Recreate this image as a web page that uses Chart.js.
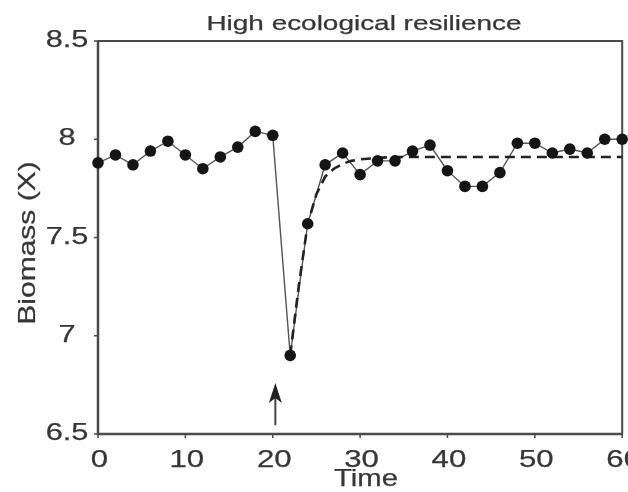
<!DOCTYPE html>
<html>
<head>
<meta charset="utf-8">
<script src="https://cdn.jsdelivr.net/npm/chart.js@4.4.1/dist/chart.umd.min.js"></script>
<style>
  html, body { margin: 0; padding: 0; background: #ffffff; }
  #wrap { width: 628px; height: 492px; }
</style>
</head>
<body>
<div id="wrap"><canvas id="c" width="628" height="492"></canvas></div>
<script>
// Observed biomass, sampled every 2 time units
const timePoints = [0, 2, 4, 6, 8, 10, 12, 14, 16, 18, 20, 22, 24, 26, 28, 30,
                    32, 34, 36, 38, 40, 42, 44, 46, 48, 50, 52, 54, 56, 58, 60];
const biomass = [7.88, 7.92, 7.87, 7.94, 7.99, 7.92, 7.85, 7.91, 7.96, 8.04, 8.02, 6.90, 7.57, 7.87, 7.93, 7.82,
                 7.89, 7.89, 7.94, 7.97, 7.84, 7.76, 7.76, 7.83, 7.98, 7.98, 7.93, 7.95, 7.93, 8.00, 8.00];

// Fitted recovery trajectory after the disturbance
const fitTime = [22, 23, 24, 25, 26, 27, 28, 29, 30, 32, 34, 60];
const fitBiomass = [6.90, 7.26, 7.57, 7.72, 7.81, 7.85, 7.875, 7.89, 7.898, 7.905, 7.91, 7.91];

// Axis ticks
const xTicks = [0, 10, 20, 30, 40, 50, 60];
const yTicks = [6.5, 7, 7.5, 8, 8.5];
const yTickLabels = ['6.5', '7', '7.5', '8', '8.5'];

// Disturbance marker (time, arrow base, arrow tip)
const disturbanceTime = 20.3;
const arrowBase = 6.545;
const arrowTip = 6.76;

const titleText = 'High ecological resilience';
const xTitle = 'Time';
const yTitle = 'Biomass (X)';

const INK = '#363636';
const FONT = '"Liberation Sans", Arial, Helvetica, sans-serif';

// Text drawn with a horizontal stretch along its baseline (wide lettering)
function wideText(ctx, str, x, y, size, sx, align, rot) {
  ctx.save();
  ctx.translate(x, y);
  if (rot) ctx.rotate(rot);
  ctx.scale(sx, 1);
  ctx.font = size + 'px ' + FONT;
  ctx.fillStyle = INK;
  ctx.strokeStyle = INK;
  ctx.lineWidth = 0.25;
  ctx.textAlign = align;
  ctx.textBaseline = 'alphabetic';
  ctx.fillText(str, 0, 0);
  ctx.strokeText(str, 0, 0);
  ctx.restore();
}

const framePlugin = {
  id: 'frameAndArrow',
  beforeDatasetsDraw(chart) {
    const { ctx, chartArea: a, scales: { x, y } } = chart;
    ctx.save();
    ctx.strokeStyle = '#4a4a4a';
    // top and right edges
    ctx.lineWidth = 2;
    ctx.beginPath();
    ctx.moveTo(a.left, a.top); ctx.lineTo(a.right, a.top); ctx.lineTo(a.right, a.bottom);
    ctx.stroke();
    // left and bottom axes
    ctx.lineWidth = 2.5;
    ctx.beginPath();
    ctx.moveTo(a.left, a.top); ctx.lineTo(a.left, a.bottom); ctx.lineTo(a.right, a.bottom);
    ctx.stroke();
    // outward tick marks
    ctx.lineWidth = 1.5;
    ctx.beginPath();
    yTicks.forEach(v => {
      const py = y.getPixelForValue(v);
      ctx.moveTo(a.left - 4, py); ctx.lineTo(a.left, py);
    });
    xTicks.forEach(v => {
      const px = x.getPixelForValue(v);
      ctx.moveTo(px, a.bottom); ctx.lineTo(px, a.bottom + 4);
    });
    ctx.stroke();
    // disturbance arrow
    const ax = x.getPixelForValue(disturbanceTime);
    const yb = y.getPixelForValue(arrowBase);
    const yt = y.getPixelForValue(arrowTip);
    ctx.strokeStyle = '#444444';
    ctx.lineWidth = 2;
    ctx.beginPath();
    ctx.moveTo(ax, yb); ctx.lineTo(ax, yt + 14);
    ctx.stroke();
    ctx.fillStyle = '#222222';
    ctx.beginPath();
    ctx.moveTo(ax, yt);
    ctx.lineTo(ax - 6.5, yt + 20);
    ctx.lineTo(ax, yt + 15);
    ctx.lineTo(ax + 6.5, yt + 20);
    ctx.closePath();
    ctx.fill();
    ctx.restore();
  },
  afterDraw(chart) {
    const { ctx, scales: { x, y } } = chart;
    wideText(ctx, titleText, 364, 30, 21, 1.33, 'center');
    yTicks.forEach((v, i) => {
      wideText(ctx, yTickLabels[i], 67, y.getPixelForValue(v) + 6, 24, 1.28, 'center');
    });
    xTicks.forEach(v => {
      wideText(ctx, String(v), x.getPixelForValue(v) + 1.5, 467, 24, 1.3, 'center');
    });
    wideText(ctx, xTitle, 366, 486, 24, 1.22, 'center');
    wideText(ctx, yTitle, 35, 243, 24, 1.25, 'center', -Math.PI / 2);
  }
};

const observed = timePoints.map((t, i) => ({ x: t, y: biomass[i] }));
const fitted = fitTime.map((t, i) => ({ x: t, y: fitBiomass[i] }));

new Chart(document.getElementById('c'), {
  type: 'line',
  data: {
    datasets: [
      {
        data: observed,
        showLine: false,
        pointRadius: 5.8,
        pointBackgroundColor: '#151515',
        pointBorderWidth: 0,
        borderColor: '#151515',
        clip: false,
        order: 0
      },
      {
        data: fitted,
        borderColor: '#222222',
        borderWidth: 2.6,
        borderDash: [10, 6],
        pointRadius: 0,
        tension: 0,
        clip: false,
        order: 1
      },
      {
        data: observed,
        borderColor: '#555555',
        borderWidth: 1.4,
        pointRadius: 0,
        tension: 0,
        clip: false,
        order: 2
      }
    ]
  },
  options: {
    responsive: false,
    animation: false,
    events: [],
    layout: { padding: { top: 41, right: 3, left: 0, bottom: 0 } },
    plugins: { legend: { display: false }, tooltip: { enabled: false } },
    scales: {
      x: {
        type: 'linear', min: 0, max: 60,
        ticks: { display: false, stepSize: 10 },
        grid: { display: false },
        border: { display: false },
        afterFit(s) { s.height = 58; }
      },
      y: {
        min: 6.5, max: 8.5,
        ticks: { display: false, stepSize: 0.5 },
        grid: { display: false },
        border: { display: false },
        afterFit(s) { s.width = 98; }
      }
    }
  },
  plugins: [framePlugin]
});
</script>
</body>
</html>
